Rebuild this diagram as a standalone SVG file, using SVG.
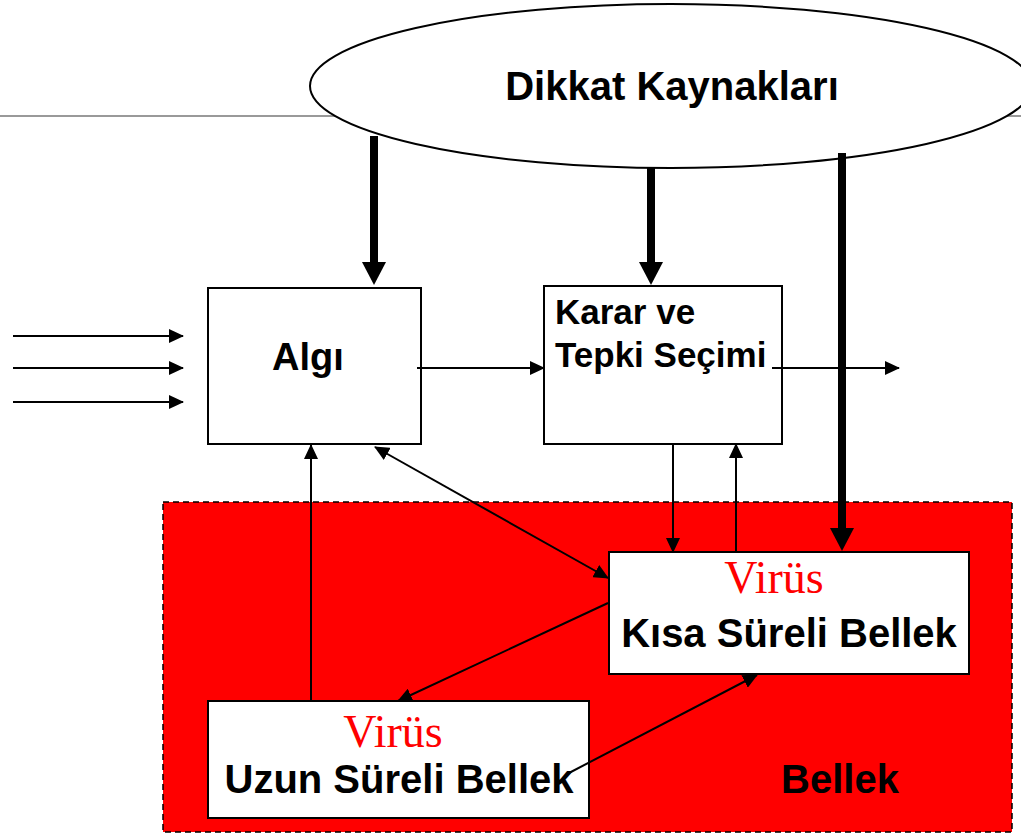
<svg xmlns="http://www.w3.org/2000/svg" width="1021" height="833" viewBox="0 0 1021 833">
<style>
.box{fill:#fff;stroke:#000;stroke-width:2}
.lbl{font-family:"Liberation Sans",Arial,sans-serif;font-weight:bold;fill:#000}
.vir{font-family:"Liberation Serif","Times New Roman",serif;fill:#ff0000;font-size:46px;text-anchor:middle}
.thin{stroke:#000;stroke-width:2;fill:none}
.thick{stroke:#000;stroke-width:8;fill:none}
</style>
<defs>
<marker id="ah" markerUnits="userSpaceOnUse" viewBox="0 0 15 14" markerWidth="15" markerHeight="14" refX="14" refY="7" orient="auto-start-reverse"><path d="M0,0 L15,7 L0,14 z" fill="#000"/></marker>
<marker id="ahT" markerUnits="userSpaceOnUse" viewBox="0 0 23 24" markerWidth="23" markerHeight="24" refX="0" refY="12" orient="auto"><path d="M0,0 L23,12 L0,24 z" fill="#000"/></marker>
</defs>
<rect width="1021" height="833" fill="#fff"/>
<line x1="0" y1="116" x2="1021" y2="116" stroke="#999" stroke-width="2"/>
<g id="bellek-region">
<rect x="163" y="502" width="849" height="330" fill="#ff0000" stroke="#000" stroke-width="1.5" stroke-dasharray="6,4"/>
<text class="lbl" x="840" y="793" font-size="40" text-anchor="middle">Bellek</text>
</g>
<g id="dikkat">
<ellipse cx="671" cy="86" rx="361" ry="82" fill="#fff" stroke="#000" stroke-width="2"/>
<text class="lbl" x="672" y="100" font-size="40" text-anchor="middle">Dikkat Kaynakları</text>
</g>
<g id="algi">
<rect class="box" x="208" y="288" width="213" height="156"/>
<text class="lbl" x="308" y="370" font-size="38" text-anchor="middle">Algı</text>
</g>
<g id="karar">
<rect class="box" x="544" y="286" width="238" height="158"/>
<text class="lbl" x="555" y="324" font-size="35">Karar ve</text>
<text class="lbl" x="555" y="367" font-size="35">Tepki Seçimi</text>
</g>
<g id="kisa">
<rect class="box" x="609" y="552" width="360" height="122"/>
<text class="vir" x="774" y="593">Virüs</text>
<text class="lbl" x="789" y="647" font-size="40" text-anchor="middle">Kısa Süreli Bellek</text>
</g>
<g id="uzun">
<rect class="box" x="208" y="701" width="381" height="117"/>
<text class="vir" x="393" y="747">Virüs</text>
<text class="lbl" x="399" y="793" font-size="40" text-anchor="middle">Uzun Süreli Bellek</text>
</g>
<g id="connectors">
<line class="thin" x1="13" y1="336" x2="183" y2="336" marker-end="url(#ah)"/>
<line class="thin" x1="13" y1="368" x2="183" y2="368" marker-end="url(#ah)"/>
<line class="thin" x1="13" y1="402" x2="183" y2="402" marker-end="url(#ah)"/>
<line class="thin" x1="417" y1="368" x2="544" y2="368" marker-end="url(#ah)"/>
<line class="thin" x1="772" y1="368" x2="899" y2="368" marker-end="url(#ah)"/>
<line class="thin" x1="311" y1="701" x2="311" y2="445" marker-end="url(#ah)"/>
<line class="thin" x1="375" y1="447" x2="608" y2="578" marker-start="url(#ah)" marker-end="url(#ah)"/>
<line class="thin" x1="608" y1="603" x2="398" y2="701" marker-end="url(#ah)"/>
<line class="thin" x1="567" y1="774" x2="757" y2="675" marker-end="url(#ah)"/>
<line class="thin" x1="673" y1="444" x2="673" y2="552" marker-end="url(#ah)"/>
<line class="thin" x1="736" y1="552" x2="736" y2="444" marker-end="url(#ah)"/>
<line class="thick" x1="374" y1="136" x2="374" y2="262" marker-end="url(#ahT)"/>
<line class="thick" x1="651" y1="168" x2="651" y2="262" marker-end="url(#ahT)"/>
<line class="thick" x1="842" y1="153" x2="842" y2="528" marker-end="url(#ahT)"/>
</g>
</svg>
